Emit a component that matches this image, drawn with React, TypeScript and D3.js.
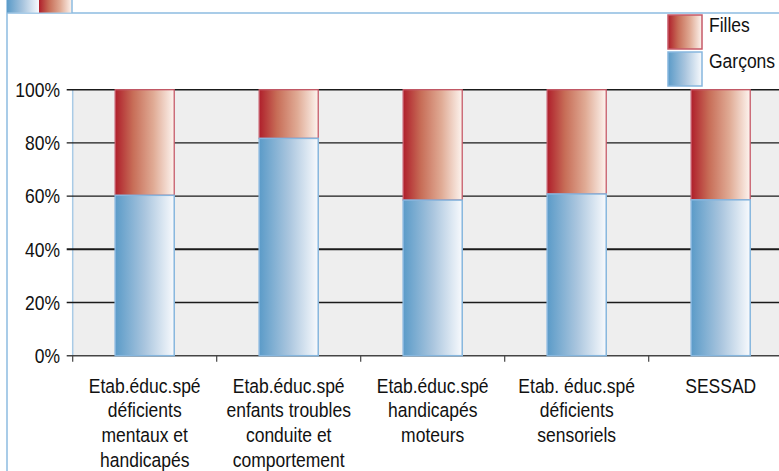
import React from "react";
import * as d3 from "d3";

const categories: string[][] = [
  ["Etab.éduc.spé", "déficients", "mentaux et", "handicapés"],
  ["Etab.éduc.spé", "enfants troubles", "conduite et", "comportement"],
  ["Etab.éduc.spé", "handicapés", "moteurs"],
  ["Etab. éduc.spé", "déficients", "sensoriels"],
  ["SESSAD"],
];
const garcons: number[] = [60.3, 81.7, 58.5, 60.8, 58.6];
const yTicks: number[] = [0, 20, 40, 60, 80, 100];
const seriesNames: string[] = ["Filles", "Garçons"];

const W = 779;
const H = 471;
const FONT = "'Liberation Sans', Arial, sans-serif";
const FS = 17.5;
const SY = 1.17;

function T(props: { x: number; y: number; anchor?: string; lines: string[]; lh?: number }) {
  const { x, y, anchor = "start", lines, lh = 25 } = props;
  return (
    <text
      transform={`translate(${x},${y}) scale(1,${SY})`}
      textAnchor={anchor}
      fontSize={FS}
      fill="#111"
    >
      {lines.map((l, j) => (
        <tspan key={j} x={0} dy={j === 0 ? 0 : lh / SY}>
          {l}
        </tspan>
      ))}
    </text>
  );
}

export default function App() {
  const plotLeft = 72.7;
  const plotTop = 89.7;
  const plotBottom = 355.7;
  const x = d3
    .scaleBand<number>()
    .domain(categories.map((_, i) => i))
    .range([plotLeft, plotLeft + 144 * 5])
    .paddingInner(0.59)
    .paddingOuter(0.295);
  const step = x.step();
  const y = d3.scaleLinear().domain([0, 100]).range([plotBottom, plotTop]);
  const frameBlue = "#8dbbe0";

  return (
    <svg
      width={W}
      height={H}
      style={{ position: "absolute", left: 0, top: 0, background: "#fff" }}
      fontFamily={FONT}
    >
      <defs>
        <linearGradient id="gBlue" x1="0" x2="1" y1="0" y2="0">
          <stop offset="0" stopColor="#5b9bc8" />
          <stop offset="0.5" stopColor="#a9c5de" />
          <stop offset="1" stopColor="#f8fafd" />
        </linearGradient>
        <linearGradient id="gRed" x1="0" x2="1" y1="0" y2="0">
          <stop offset="0" stopColor="#af1f2b" />
          <stop offset="0.3" stopColor="#c76d57" />
          <stop offset="0.65" stopColor="#e0ab95" />
          <stop offset="1" stopColor="#fdf4ef" />
        </linearGradient>
      </defs>

      {/* outer frame */}
      <line x1={7} x2={7} y1={0} y2={H} stroke={frameBlue} strokeWidth={1.5} />
      <line x1={7} x2={W} y1={13} y2={13} stroke={frameBlue} strokeWidth={1.5} />
      <rect x={7} y={-2} width={32} height={14.5} fill="url(#gBlue)" />
      <rect x={39} y={-2} width={33} height={14.5} fill="url(#gRed)" />
      <line x1={72} x2={72} y1={0} y2={13} stroke={frameBlue} strokeWidth={1.5} />

      {/* plot area */}
      <rect x={plotLeft} y={plotTop} width={W - plotLeft} height={plotBottom - plotTop} fill="#eeeeee" />
      <line x1={plotLeft} x2={plotLeft} y1={plotTop} y2={plotBottom} stroke="#a9cbe6" strokeWidth={1.5} />

      {/* gridlines and y ticks */}
      {yTicks.map((t) => (
        <g key={t}>
          <line
            x1={plotLeft - 6}
            x2={W}
            y1={y(t)}
            y2={y(t)}
            stroke={t === 0 ? "#444" : "#1a1a1a"}
            strokeWidth={t === 40 ? 2 : 1.4}
          />
          <T x={60} y={y(t) + 7.3} anchor="end" lines={[`${t}%`]} />
        </g>
      ))}

      {/* category ticks */}
      {categories.map((_, i) => (
        <line
          key={i}
          x1={plotLeft + i * step}
          x2={plotLeft + i * step}
          y1={plotBottom}
          y2={plotBottom + 6}
          stroke="#444"
          strokeWidth={1.2}
        />
      ))}

      {/* bars */}
      {categories.map((_, i) => {
        const bx = x(i)!;
        const bw = x.bandwidth();
        return (
          <g key={i}>
            <rect
              x={bx}
              y={y(100)}
              width={bw}
              height={y(garcons[i]) - y(100)}
              fill="url(#gRed)"
              stroke="#c65a68"
              strokeWidth={1.3}
            />
            <rect
              x={bx}
              y={y(garcons[i])}
              width={bw}
              height={y(0) - y(garcons[i])}
              fill="url(#gBlue)"
              stroke="#86b6de"
              strokeWidth={1.5}
            />
          </g>
        );
      })}

      {/* category labels */}
      {categories.map((lines, i) => (
        <T key={i} x={x(i)! + x.bandwidth() / 2} y={392.5} anchor="middle" lines={lines} />
      ))}

      {/* legend */}
      {seriesNames.map((s, i) => (
        <g key={s}>
          <rect
            x={668}
            y={15 + i * 37}
            width={34}
            height={34}
            fill={i === 0 ? "url(#gRed)" : "url(#gBlue)"}
            stroke={i === 0 ? "#c65a68" : "#86b6de"}
            strokeWidth={1.5}
          />
          <T x={709} y={32 + i * 36} lines={[s]} />
        </g>
      ))}
    </svg>
  );
}
